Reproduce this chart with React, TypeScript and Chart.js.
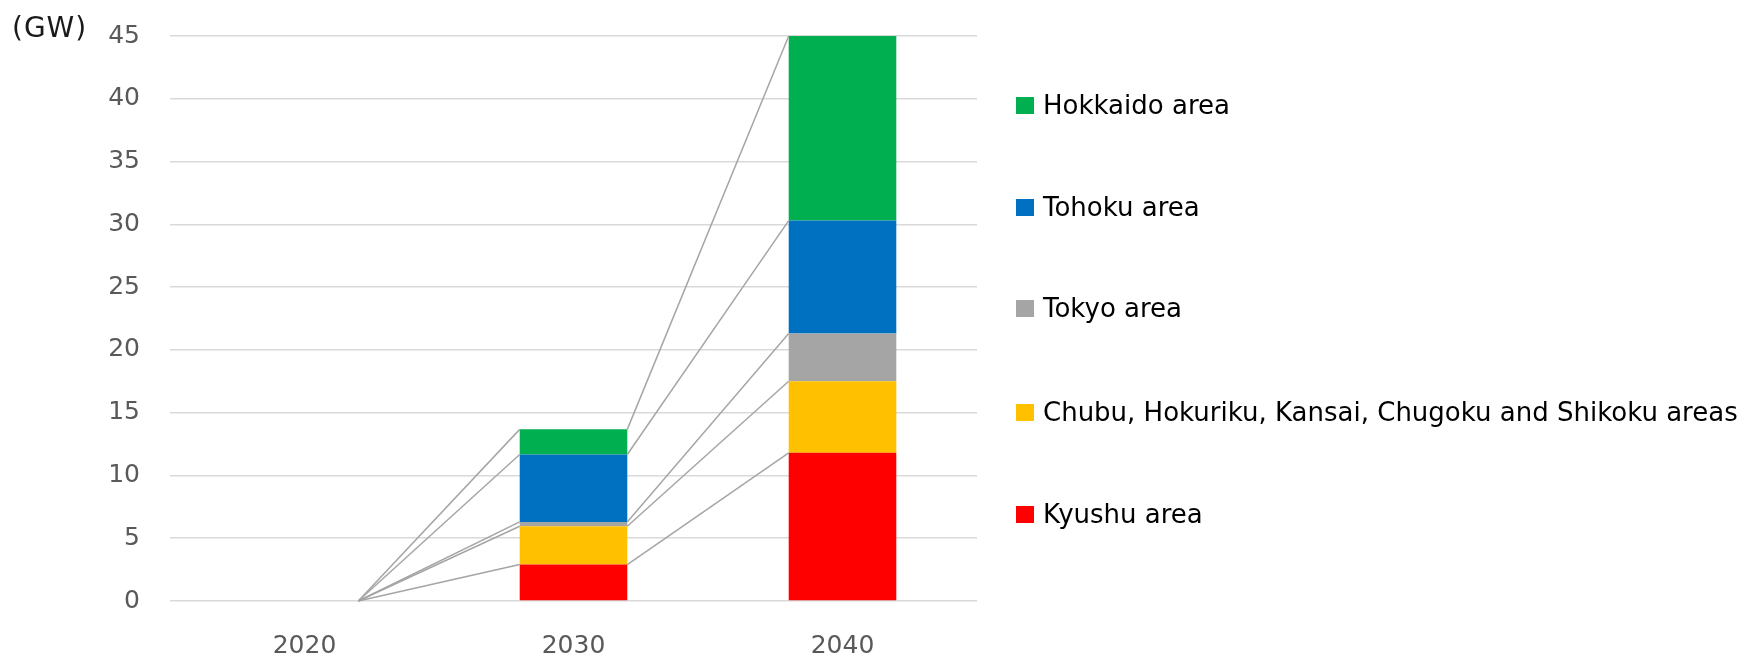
import React, { useEffect, useRef } from "react";
import { Chart, registerables } from "chart.js";

Chart.register(...registerables);

const categories = ["2020", "2030", "2040"];
const kyushu = [0, 2.9, 11.8];
const chubuEtc = [0, 3.05, 5.7];
const tokyo = [0, 0.35, 3.8];
const tohoku = [0, 5.37, 9.0];
const hokkaido = [0, 2.0, 14.7];
const yTicks = [0, 5, 10, 15, 20, 25, 30, 35, 40, 45];

const seriesNames = [
  "Kyushu area",
  "Chubu, Hokuriku, Kansai, Chugoku and Shikoku areas",
  "Tokyo area",
  "Tohoku area",
  "Hokkaido area",
];
const seriesColors = ["#FF0000", "#FFC000", "#A5A5A5", "#0070C0", "#00B050"];
const seriesData = [kyushu, chubuEtc, tokyo, tohoku, hokkaido];

const FONT = "'DejaVu Sans', Verdana, sans-serif";

const seriesLinesPlugin = {
  id: "seriesLines",
  afterDatasetsDraw(chart: any) {
    const ctx = chart.ctx;
    ctx.save();
    ctx.strokeStyle = "#A5A5A5";
    ctx.lineWidth = 1.5;
    chart.data.datasets.forEach((_: any, di: number) => {
      const meta = chart.getDatasetMeta(di);
      const els = meta.data;
      for (let i = 0; i < els.length - 1; i++) {
        const a = els[i];
        const b = els[i + 1];
        ctx.beginPath();
        ctx.moveTo(a.x + a.width / 2, a.y);
        ctx.lineTo(b.x - b.width / 2, b.y);
        ctx.stroke();
      }
    });
    ctx.restore();
  },
};

export default function App() {
  const canvasRef = useRef<HTMLCanvasElement | null>(null);

  useEffect(() => {
    document.body.style.margin = "0";
    const canvas = canvasRef.current;
    if (!canvas) return;
    const chart = new Chart(canvas, {
      type: "bar",
      data: {
        labels: categories,
        datasets: seriesData.map((d, i) => ({
          label: seriesNames[i],
          data: d,
          backgroundColor: seriesColors[i],
          borderWidth: 0,
          categoryPercentage: 1,
          barPercentage: 0.4,
        })),
      },
      options: {
        responsive: false,
        animation: false,
        layout: { padding: { top: 36, right: 780, left: 0, bottom: 0 } },
        plugins: {
          legend: { display: false },
          tooltip: { enabled: false },
        },
        scales: {
          x: {
            stacked: true,
            grid: { display: false },
            border: { display: false },
            ticks: {
              color: "#595959",
              font: { family: FONT, size: 25 },
              padding: 22,
            },
            afterFit: (s: any) => {
              s.height = 54;
            },
          },
          y: {
            stacked: true,
            min: 0,
            max: 45,
            afterBuildTicks: (s: any) => {
              s.ticks = yTicks.map((v) => ({ value: v }));
            },
            grid: {
              color: "#D9D9D9",
              lineWidth: 1.5,
              drawTicks: true,
              tickLength: 30,
              tickColor: "rgba(0,0,0,0)",
            },
            border: { display: false },
            ticks: {
              color: "#595959",
              font: { family: FONT, size: 25 },
              padding: 0,
            },
            afterFit: (s: any) => {
              s.width = 170;
            },
          },
        },
      },
      plugins: [seriesLinesPlugin],
    });
    return () => chart.destroy();
  }, []);

  const legendOrder = [4, 3, 2, 1, 0];
  const legendTops = [105, 207, 308, 412, 514];

  return (
    <div style={{ position: "fixed", left: 0, top: 0, width: 1757, height: 655, background: "#fff" }}>
      <canvas ref={canvasRef} width={1757} height={655} style={{ position: "absolute", left: 0, top: 0 }} />
      <div
        style={{
          position: "absolute",
          left: 12,
          top: 27,
          transform: "translateY(-50%)",
          fontFamily: FONT,
          fontSize: 28,
          color: "#1a1a1a",
          letterSpacing: 1,
          whiteSpace: "nowrap",
        }}
      >
        (GW)
      </div>
      {legendOrder.map((si, k) => (
        <div
          key={si}
          style={{
            position: "absolute",
            left: 1016,
            top: legendTops[k],
            transform: "translateY(-50%)",
            display: "flex",
            alignItems: "center",
            whiteSpace: "nowrap",
          }}
        >
          <span style={{ display: "inline-block", width: 18, height: 17, background: seriesColors[si], marginRight: 9 }} />
          <span style={{ fontFamily: FONT, fontSize: 26, color: "#000" }}>{seriesNames[si]}</span>
        </div>
      ))}
    </div>
  );
}
